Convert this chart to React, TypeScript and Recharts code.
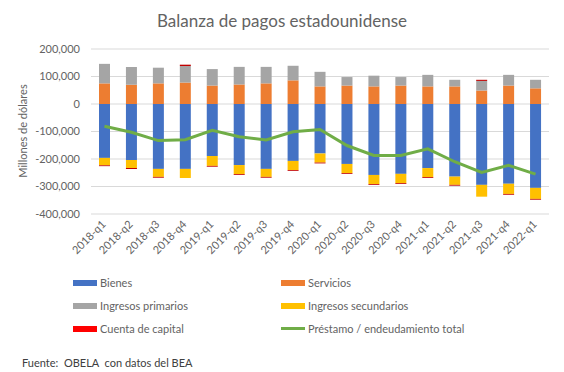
import React from 'react';
import {
  ComposedChart,
  Bar,
  Line,
  XAxis,
  YAxis,
  CartesianGrid,
  Legend
} from 'recharts';

const categories = [
  '2018-q1', '2018-q2', '2018-q3', '2018-q4',
  '2019-q1', '2019-q2', '2019-q3', '2019-q4',
  '2020-q1', '2020-q2', '2020-q3', '2020-q4',
  '2021-q1', '2021-q2', '2021-q3', '2021-q4',
  '2022-q1'
];

const bienes = [-196000, -204000, -236000, -236000, -189000, -222000, -236000, -207000, -180000, -218000, -258000, -254000, -233000, -264000, -294000, -290000, -305000];
const servicios = [75000, 70000, 75000, 78000, 67000, 71000, 75000, 86000, 64000, 67000, 64000, 67000, 64000, 64000, 49000, 67000, 57000];
const ingresosPrimarios = [71000, 65000, 57000, 60000, 60000, 64000, 60000, 53000, 53000, 31000, 39000, 31000, 42000, 24000, 35000, 39000, 31000];
const ingresosSecundarios = [-27000, -29000, -29000, -33000, -36000, -33000, -29000, -33000, -33000, -33000, -33000, -34000, -33000, -30000, -43000, -37000, -40000];
const cuentaCapital = [-3000, -3000, -3000, 5000, -3000, -3000, -3000, -3000, -3000, -3000, -3000, -3000, -3000, -3000, 4000, -3000, -3000];
const prestamoTotal = [-81000, -103000, -133000, -130000, -96000, -119000, -131000, -101000, -93000, -151000, -187000, -187000, -163000, -210000, -249000, -223000, -255000];

const yTicks = [200000, 100000, 0, -100000, -200000, -300000, -400000];

const data = categories.map((period, i) => ({
  period,
  bienes: bienes[i],
  servicios: servicios[i],
  primarios: ingresosPrimarios[i],
  secundarios: ingresosSecundarios[i],
  capital: cuentaCapital[i],
  total: prestamoTotal[i]
}));

const FONT = 'Lato, "Open Sans", sans-serif';
const TEXT = '#636363';

const legendItems = [
  { label: 'Bienes', color: '#4472C4', type: 'rect' },
  { label: 'Servicios', color: '#ED7D31', type: 'rect' },
  { label: 'Ingresos primarios', color: '#A5A5A5', type: 'rect' },
  { label: 'Ingresos secundarios', color: '#FFC000', type: 'rect' },
  { label: 'Cuenta de capital', color: '#FF0000', type: 'rect' },
  { label: 'Préstamo / endeudamiento total', color: '#70AD47', type: 'line' }
];

// Excel-style legend: two columns, three rows
const LegendContent = () => (
  <div style={{ position: 'relative', height: 70, fontFamily: FONT, fontSize: 11, color: TEXT }}>
    {legendItems.map((item, i) => (
      <div
        key={item.label}
        style={{
          position: 'absolute',
          left: i % 2 === 0 ? 73 : 281,
          top: Math.floor(i / 2) * 23,
          height: 23,
          display: 'flex',
          alignItems: 'center'
        }}
      >
        <span
          style={{
            display: 'inline-block',
            width: 24,
            height: item.type === 'line' ? 3 : 6,
            background: item.color,
            marginRight: 3
          }}
        />
        {item.label}
      </div>
    ))}
  </div>
);

const XTick = ({ x, y, payload }: any) => {
  const ox = x + 2;
  const oy = y + 3;
  return (
    <text
      x={ox}
      y={oy}
      transform={`rotate(-45 ${ox} ${oy})`}
      textAnchor="end"
      fill={TEXT}
      fontSize={11}
      fontFamily={FONT}
    >
      {payload.value}
    </text>
  );
};

export default function App() {
  return (
    <div style={{ position: 'absolute', left: 0, top: 0, width: 564, height: 372, background: '#fff' }}>
      <div
        style={{
          position: 'absolute',
          top: 10,
          width: 564,
          textAlign: 'center',
          fontFamily: FONT,
          fontSize: 17,
          color: TEXT
        }}
      >
        Balanza de pagos estadounidense
      </div>
      <ComposedChart
        width={564}
        height={372}
        data={data}
        stackOffset="sign"
        barSize={11}
        margin={{ top: 49, right: 15, left: 0, bottom: 31 }}
      >
        <CartesianGrid vertical={false} stroke="#D9D9D9" />
        <XAxis
          dataKey="period"
          axisLine={false}
          tickLine={false}
          height={57}
          interval={0}
          tick={<XTick />}
        />
        <YAxis
          width={91}
          domain={[-400000, 200000]}
          ticks={yTicks}
          axisLine={false}
          tickLine={false}
          tickMargin={5}
          tickFormatter={(v: number) => v.toLocaleString('en-US')}
          tick={{ fill: TEXT, fontSize: 11, fontFamily: FONT }}
          label={{
            content: () => (
              <text
                x={27}
                y={131}
                transform="rotate(-90 27 131)"
                textAnchor="middle"
                fill={TEXT}
                fontSize={11}
                fontFamily={FONT}
              >
                Millones de dólares
              </text>
            )
          }}
        />
        <Legend verticalAlign="bottom" content={<LegendContent />} />
        <Bar dataKey="bienes" stackId="a" fill="#4472C4" isAnimationActive={false} />
        <Bar dataKey="servicios" stackId="a" fill="#ED7D31" isAnimationActive={false} />
        <Bar dataKey="primarios" stackId="a" fill="#A5A5A5" isAnimationActive={false} />
        <Bar dataKey="secundarios" stackId="a" fill="#FFC000" isAnimationActive={false} />
        <Bar dataKey="capital" stackId="a" fill="#C00000" isAnimationActive={false} />
        <Line
          type="linear"
          dataKey="total"
          stroke="#70AD47"
          strokeWidth={3}
          dot={false}
          isAnimationActive={false}
        />
      </ComposedChart>
      <div
        style={{
          position: 'absolute',
          left: 22,
          top: 356,
          fontFamily: FONT,
          fontSize: 11,
          color: '#404040',
          whiteSpace: 'pre'
        }}
      >
        {'Fuente:  OBELA  con datos del BEA'}
      </div>
    </div>
  );
}
